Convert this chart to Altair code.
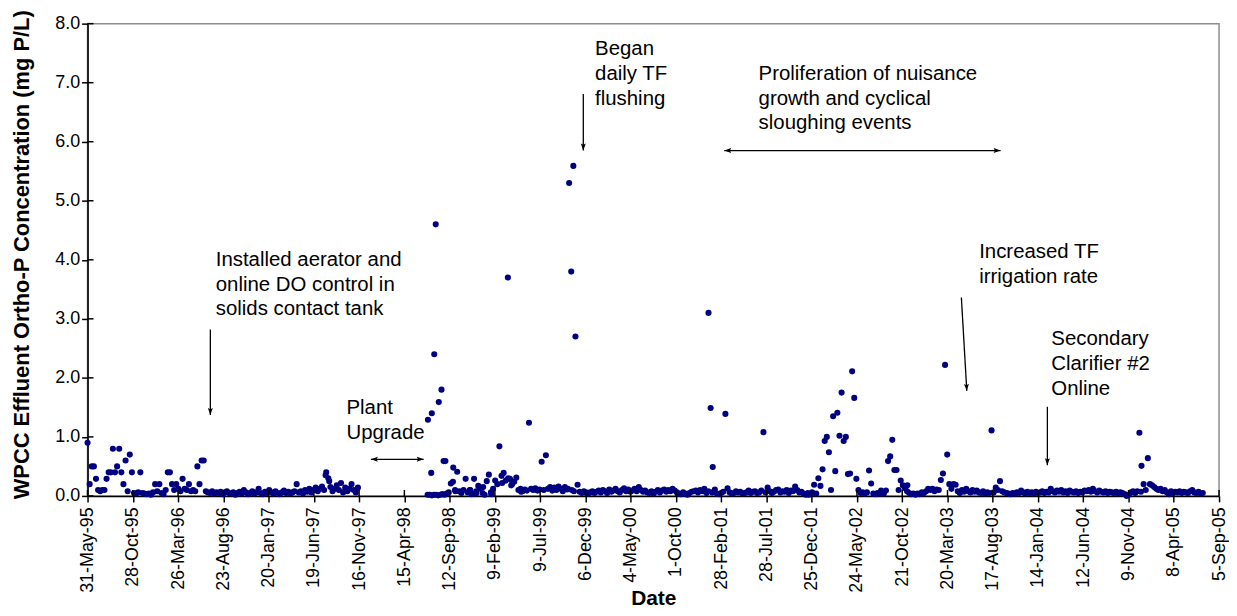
import altair as alt
import pandas as pd

# ---------------- data ----------------
tick_dates = ["1995-05-31", "1995-10-28", "1996-03-26", "1996-08-23", "1997-01-20",
              "1997-06-19", "1997-11-16", "1998-04-15", "1998-09-12", "1999-02-09",
              "1999-07-09", "1999-12-06", "2000-05-04", "2000-10-01", "2001-02-28",
              "2001-07-28", "2001-12-25", "2002-05-24", "2002-10-21", "2003-03-20",
              "2003-08-17", "2004-01-14", "2004-06-12", "2004-11-09", "2005-04-08",
              "2005-09-05"]
y_ticks = [0, 1, 2, 3, 4, 5, 6, 7, 8]

# weekly samples, period 1 (before plant upgrade)
seg_a_start = "1995-05-31"
seg_a_values = [
    0.90, 0.20, 0.50, 0.50, 0.29, 0.10, 0.08, 0.10, 0.10, 0.29,
    0.40, 0.40, 0.80, 0.40, 0.50, 0.80, 0.40, 0.20, 0.60, 0.08,
    0.70, 0.40, 0.05, 0.04, 0.06, 0.40, 0.05, 0.04, 0.03, 0.04,
    0.02, 0.06, 0.20, 0.08, 0.20, 0.05, 0.03, 0.10, 0.40, 0.40,
    0.20, 0.10, 0.20, 0.12, 0.08, 0.29, 0.12, 0.10, 0.20, 0.08,
    0.10, 0.08, 0.50, 0.20, 0.60, 0.60, 0.08, 0.06, 0.05, 0.08,
    0.04, 0.06, 0.05, 0.07, 0.03, 0.06, 0.08, 0.05, 0.04, 0.06,
    0.02, 0.05, 0.07, 0.04, 0.10, 0.06, 0.03, 0.05, 0.08, 0.04,
    0.06, 0.12, 0.05, 0.03, 0.07, 0.05, 0.10, 0.06, 0.04, 0.08,
    0.05, 0.03, 0.06, 0.09, 0.05, 0.07, 0.04, 0.06, 0.08, 0.20,
    0.06, 0.08, 0.04, 0.10, 0.07, 0.12, 0.06, 0.10, 0.14, 0.08,
    0.12, 0.16, 0.10, 0.40, 0.30, 0.15, 0.08, 0.12, 0.18, 0.10,
    0.22, 0.06, 0.14, 0.08, 0.12, 0.20, 0.10, 0.06, 0.14]

# weekly samples, period 2 (after plant upgrade)
seg_b_start = "1998-07-01"
seg_b_values = [
    0.02, 0.02, 0.01, 0.02, 0.02, 0.01, 0.02, 0.03, 0.02, 0.04,
    0.06, 0.21, 0.24, 0.10, 0.41, 0.08, 0.05, 0.10, 0.29, 0.06,
    0.10, 0.03, 0.29, 0.08, 0.17, 0.12, 0.05, 0.02, 0.25, 0.36,
    0.06, 0.12, 0.26, 0.20, 0.84, 0.34, 0.39, 0.26, 3.70, 0.29,
    0.20, 0.24, 0.31, 0.10, 0.12, 0.08, 0.11, 0.09, 1.24, 0.12,
    0.10, 0.13, 0.09, 0.11, 0.58, 0.10, 0.69, 0.12, 0.15, 0.09,
    0.14, 0.10, 0.16, 0.12, 0.08, 0.15, 0.11, 5.30, 3.80, 5.59,
    2.70, 0.19, 0.07, 0.05, 0.08, 0.06, 0.04, 0.06, 0.08, 0.05,
    0.07, 0.09, 0.06, 0.10, 0.08, 0.05, 0.11, 0.07, 0.09, 0.12,
    0.08, 0.06, 0.10, 0.13, 0.08, 0.11, 0.07, 0.09, 0.12, 0.08,
    0.15, 0.10, 0.07, 0.09, 0.06, 0.05, 0.08, 0.04, 0.07, 0.10,
    0.06, 0.09, 0.11, 0.07, 0.10, 0.08, 0.12, 0.09, 0.06, 0.04,
    0.03, 0.06, 0.04, 0.02, 0.05, 0.07, 0.08, 0.09, 0.06, 0.10,
    0.08, 0.12, 0.05, 3.10, 1.49, 0.49, 0.11, 0.04, 0.03, 0.05,
    0.07, 1.39, 0.13, 0.06, 0.04, 0.05, 0.08, 0.06, 0.07, 0.04,
    0.05, 0.06, 0.09, 0.05, 0.07, 0.08, 0.05, 0.06, 0.09, 1.08,
    0.06, 0.14, 0.08, 0.05, 0.07, 0.10, 0.11, 0.06, 0.08, 0.07,
    0.10, 0.05, 0.09, 0.08, 0.16, 0.10, 0.06, 0.07, 0.04, 0.02,
    0.05, 0.03, 0.06, 0.19, 0.04, 0.30, 0.17, 0.45, 0.93, 1.00,
    0.74, 0.10, 1.35, 0.42, 1.41, 1.02, 1.75, 0.93, 1.00, 0.37,
    0.38, 2.11, 1.66, 0.29, 0.10, 0.05, 0.06, 0.04, 0.06, 0.43,
    0.21, 0.04, 0.03, 0.05, 0.04, 0.06, 0.04, 0.09, 0.59, 0.67,
    0.95, 0.44, 0.44, 0.10, 0.26, 0.18, 0.13, 0.08, 0.05, 0.03,
    0.04, 0.02, 0.04, 0.03, 0.06, 0.05, 0.08, 0.12, 0.10, 0.12,
    0.08, 0.11, 0.10, 0.27, 0.38, 2.22, 0.70, 0.20, 0.12, 0.20,
    0.19, 0.08, 0.05, 0.10, 0.07, 0.12, 0.08, 0.06, 0.10, 0.07,
    0.09, 0.06, 0.05, 0.08, 0.04, 0.06, 0.05, 1.11, 0.06, 0.14,
    0.10, 0.25, 0.08, 0.06, 0.05, 0.04, 0.03, 0.05, 0.04, 0.06,
    0.05, 0.09, 0.06, 0.04, 0.07, 0.05, 0.06, 0.04, 0.07, 0.05,
    0.06, 0.08, 0.05, 0.07, 0.06, 0.12, 0.08, 0.06, 0.09, 0.07,
    0.10, 0.06, 0.08, 0.05, 0.09, 0.07, 0.06, 0.08, 0.05, 0.07,
    0.06, 0.09, 0.08, 0.10, 0.07, 0.12, 0.08, 0.06, 0.09, 0.07,
    0.06, 0.08, 0.05, 0.07, 0.06, 0.05, 0.07, 0.04, 0.06, 0.05,
    0.03, 0.00, 0.02, 0.06, 0.08, 0.05, 0.08, 1.07, 0.51, 0.20,
    0.10, 0.64, 0.20, 0.18, 0.15, 0.12, 0.10, 0.12, 0.08, 0.10,
    0.06, 0.03, 0.08, 0.05, 0.07, 0.06, 0.08, 0.05, 0.07, 0.06,
    0.05, 0.08, 0.10, 0.06, 0.05, 0.07, 0.04, 0.05]

# additional (non-weekly) samples
extra_dates = ["1997-07-28", "1997-08-09", "1998-07-02", "1998-07-13", "1998-07-15",
               "1998-07-23", "1998-07-28", "1998-08-07", "1998-08-16", "1998-08-23",
               "1998-08-29", "1998-09-24", "1998-10-01", "1998-11-19", "1998-12-09",
               "1999-01-01", "1999-01-28", "1999-03-05", "1999-03-25", "1999-04-04",
               "1999-05-07", "1999-10-09", "1999-10-22", "1999-10-29", "2001-01-16",
               "2001-01-29", "2001-12-15", "2001-12-28", "2002-08-12", "2002-11-07",
               "2004-12-20"]
extra_values = [0.35, 0.25, 1.29, 0.39, 1.40, 2.40, 4.60, 1.59, 1.80, 0.59,
                0.59, 0.48, 0.08, 0.10, 0.04, 0.15, 0.03, 0.22, 0.30, 0.18,
                0.07, 0.12, 0.10, 0.08, 0.08, 0.06, 0.02, 0.05, 0.09, 0.18,
                0.07]

# annotations
note_texts = ["Installed aerator and\nonline DO control in\nsolids contact tank",
              "Plant\nUpgrade",
              "Began\ndaily TF\nflushing",
              "Proliferation of nuisance\ngrowth and cyclical\nsloughing events",
              "Increased TF\nirrigation rate",
              "Secondary\nClarifier #2\nOnline"]
note_dates = ["1996-07-29", "1997-10-05", "2000-01-07", "2001-07-02", "2003-07-03", "2004-02-27"]
note_values = [3.90, 1.39, 7.47, 7.05, 4.03, 2.56]

arrow_start_dates = ["1996-07-11", "1997-12-25", "1999-11-29", "2001-03-10", "2003-05-05", "2004-02-14"]
arrow_start_values = [2.82, 0.62, 6.81, 5.85, 3.36, 1.51]
arrow_end_dates = ["1996-07-11", "1998-06-18", "1999-11-29", "2003-09-12", "2003-05-23", "2004-02-14"]
arrow_end_values = [1.37, 0.62, 5.85, 5.85, 1.78, 0.52]

HEAD_DOWN = "M0,0L-0.5,-1.4L0,-1.15L0.5,-1.4Z"
HEAD_LEFT = "M0,0L1.4,-0.5L1.15,0L1.4,0.5Z"
HEAD_RIGHT = "M0,0L-1.4,-0.5L-1.15,0L-1.4,0.5Z"
head_dates = ["1996-07-11", "1997-12-25", "1998-06-18", "1999-11-29", "2001-03-10",
              "2003-09-12", "2003-05-23", "2004-02-14"]
head_values = [1.37, 0.62, 0.62, 5.85, 5.85, 5.85, 1.78, 0.52]
head_shapes = [HEAD_DOWN, HEAD_LEFT, HEAD_RIGHT, HEAD_DOWN, HEAD_LEFT, HEAD_RIGHT, HEAD_DOWN, HEAD_DOWN]
head_angles = [0, 0, 0, 0, 0, 0, 357, 0]

# ---------------- tables ----------------
dates_a = pd.date_range(seg_a_start, periods=len(seg_a_values), freq="7D").strftime("%Y-%m-%d").tolist()
dates_b = pd.date_range(seg_b_start, periods=len(seg_b_values), freq="7D").strftime("%Y-%m-%d").tolist()
points = pd.DataFrame({
    "date": dates_a + dates_b + extra_dates,
    "value": seg_a_values + seg_b_values + extra_values,
})

notes = pd.DataFrame({"date": note_dates, "value": note_values, "text": note_texts})
arrows = pd.DataFrame({"date": arrow_start_dates, "value": arrow_start_values,
                       "date2": arrow_end_dates, "value2": arrow_end_values})
heads = pd.DataFrame({"date": head_dates, "value": head_values,
                      "shape": head_shapes, "angle": head_angles})
xticks = pd.DataFrame({"date": tick_dates})
yticks = pd.DataFrame({"value": y_ticks})


def ms(d):
    return int(pd.Timestamp(d).value // 10**6)


tick_ms = [ms(d) for d in tick_dates]
x_scale = alt.Scale(type="utc", domain=[tick_ms[0], tick_ms[-1]])
y_scale = alt.Scale(domain=[0, 8], nice=False, zero=False)

W, H = 1138, 475
FONT = "Liberation Sans"

x_axis = alt.Axis(values=tick_ms,
                  labelExpr="utcFormat(datum.value, '%-d-%b-%y')",
                  labelAngle=270, labelPadding=5, tickSize=6,
                  labelFlush=False, labelOverlap=False,
                  title="Date", titleY=92, titleFontSize=21)
y_axis = alt.Axis(values=y_ticks, format=".1f", tickSize=6, labelPadding=2,
                  title="WPCC Effluent Ortho-P Concentration (mg P/L)",
                  titlePadding=21, titleY=232)

X = alt.X("date:T", scale=x_scale, axis=x_axis)
Y = alt.Y("value:Q", scale=y_scale, axis=y_axis)

pts = alt.Chart(points).mark_circle(size=38, color="#000080", opacity=1).encode(x=X, y=Y)

inner_x_ticks = alt.Chart(xticks).mark_rule(color="black", strokeWidth=1.5).encode(
    x=X, y=alt.value(H), y2=alt.value(H - 6))
inner_y_ticks = alt.Chart(yticks).mark_rule(color="black", strokeWidth=1.5).encode(
    y=Y, x=alt.value(0), x2=alt.value(6))

txt = alt.Chart(notes).mark_text(align="left", baseline="alphabetic", font=FONT, fontSize=20.5,
                                 lineBreak="\n", lineHeight=25, color="black").encode(
    x=X, y=Y, text="text:N")

arr = alt.Chart(arrows).mark_rule(color="black", strokeWidth=1.3).encode(
    x=X, y=Y, x2="date2:T", y2="value2:Q")

hd = alt.Chart(heads).mark_point(filled=True, size=100, color="black", opacity=1, strokeWidth=0).encode(
    x=X, y=Y,
    shape=alt.Shape("shape:N", scale=None, legend=None),
    angle=alt.Angle("angle:Q", scale=None))

chart = alt.layer(pts, inner_x_ticks, inner_y_ticks, arr, hd, txt).properties(
    width=W, height=H,
    autosize=alt.AutoSizeParams(type="none"),
    padding={"left": 80, "top": 14, "right": 10, "bottom": 116},
).configure_view(
    stroke="#8c8c8c", strokeWidth=1.5
).configure_axis(
    grid=False, domainColor="black", domainWidth=1.6, tickColor="black", tickWidth=1.5,
    labelFont=FONT, labelFontSize=18, labelColor="black",
    titleFont=FONT, titleFontSize=22, titleFontWeight="bold", titleColor="black",
)

chart.save("out.html", embed_options={"renderer": "svg", "actions": False})
